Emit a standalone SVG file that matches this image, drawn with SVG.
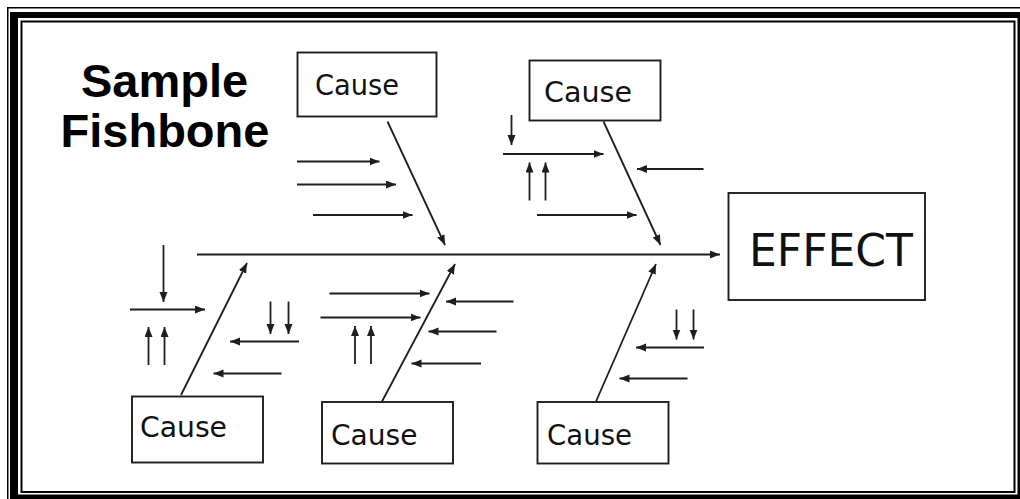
<svg xmlns="http://www.w3.org/2000/svg" width="1020" height="499" viewBox="0 0 1020 499">
  <style>
    .ln { stroke: #1e1e1e; stroke-width: 1.8; fill: none; }
    .spine { stroke: #1e1e1e; stroke-width: 2.2; fill: none; }
    .box { stroke: #1e1e1e; stroke-width: 1.9; fill: #ffffff; }
    .lbl { font-family: "DejaVu Sans", Verdana, sans-serif; font-size: 29px; fill: #111111; }
    .effect { font-family: "DejaVu Sans", Verdana, sans-serif; font-size: 45px; fill: #111111; }
    .title { font-family: "Liberation Sans", Arial, sans-serif; font-size: 47px; font-weight: bold; fill: #000000; text-anchor: middle; }
  </style>
  <defs>
    <marker id="ah" markerUnits="userSpaceOnUse" markerWidth="11" markerHeight="9" refX="10" refY="4" orient="auto">
      <path d="M0,0 L10,4 L0,8 z" fill="#1e1e1e"/>
    </marker>
  </defs>

  <!-- page background and triple border -->
  <rect x="0" y="0" width="1020" height="499" fill="#ffffff"/>
  <rect x="7.75" y="7.75" width="1030" height="520" fill="none" stroke="#000" stroke-width="1.5"/>
  <rect x="10" y="12" width="1030" height="520" fill="#000"/>
  <rect x="18" y="18" width="999.5" height="476.5" fill="#ffffff"/>
  <rect x="21.5" y="21.5" width="993" height="470.5" fill="none" stroke="#000" stroke-width="2"/>

  <!-- title -->
  <g id="title">
    <text class="title" x="164.5" y="97">Sample</text>
    <text class="title" x="165" y="147">Fishbone</text>
  </g>

  <!-- connectors: spine, bones and minor arrows -->
  <g id="connectors">
    <line class="spine" x1="197" y1="254.5" x2="720" y2="254.5" marker-end="url(#ah)"/>

    <!-- bones -->
    <line class="ln" x1="387.5" y1="121.5" x2="445" y2="245" marker-end="url(#ah)"/>
    <line class="ln" x1="603.5" y1="121.5" x2="660.5" y2="245" marker-end="url(#ah)"/>
    <line class="ln" x1="181" y1="395" x2="247" y2="263" marker-end="url(#ah)"/>
    <line class="ln" x1="382" y1="401.5" x2="455" y2="264" marker-end="url(#ah)"/>
    <line class="ln" x1="596" y1="401.5" x2="656" y2="264" marker-end="url(#ah)"/>

    <!-- upper-left bone -->
    <line class="ln" x1="297" y1="161.5" x2="379.5" y2="161.5" marker-end="url(#ah)"/>
    <line class="ln" x1="297" y1="184.5" x2="396" y2="184.5" marker-end="url(#ah)"/>
    <line class="ln" x1="313" y1="215" x2="412.5" y2="215" marker-end="url(#ah)"/>

    <!-- upper-right bone -->
    <line class="ln" x1="511.5" y1="115" x2="511.5" y2="145" marker-end="url(#ah)"/>
    <line class="ln" x1="503" y1="154" x2="603.5" y2="154" marker-end="url(#ah)"/>
    <line class="ln" x1="529.5" y1="200.5" x2="529.5" y2="162.5" marker-end="url(#ah)"/>
    <line class="ln" x1="545.5" y1="200.5" x2="545.5" y2="162.5" marker-end="url(#ah)"/>
    <line class="ln" x1="703.5" y1="169" x2="637" y2="169" marker-end="url(#ah)"/>
    <line class="ln" x1="537" y1="215" x2="636.5" y2="215" marker-end="url(#ah)"/>

    <!-- lower-left bone -->
    <line class="ln" x1="163.5" y1="245" x2="163.5" y2="302" marker-end="url(#ah)"/>
    <line class="ln" x1="130" y1="309.5" x2="205" y2="309.5" marker-end="url(#ah)"/>
    <line class="ln" x1="148.5" y1="365" x2="148.5" y2="327" marker-end="url(#ah)"/>
    <line class="ln" x1="164.5" y1="365" x2="164.5" y2="327" marker-end="url(#ah)"/>
    <line class="ln" x1="270.5" y1="301.5" x2="270.5" y2="334" marker-end="url(#ah)"/>
    <line class="ln" x1="288.5" y1="301.5" x2="288.5" y2="334" marker-end="url(#ah)"/>
    <line class="ln" x1="299" y1="341.5" x2="230" y2="341.5" marker-end="url(#ah)"/>
    <line class="ln" x1="281.5" y1="373.5" x2="213.5" y2="373.5" marker-end="url(#ah)"/>

    <!-- lower-middle bone -->
    <line class="ln" x1="329.5" y1="293.5" x2="429.5" y2="293.5" marker-end="url(#ah)"/>
    <line class="ln" x1="320.5" y1="317.5" x2="420.5" y2="317.5" marker-end="url(#ah)"/>
    <line class="ln" x1="355" y1="364" x2="355" y2="326" marker-end="url(#ah)"/>
    <line class="ln" x1="371" y1="364" x2="371" y2="326" marker-end="url(#ah)"/>
    <line class="ln" x1="513.5" y1="301.5" x2="446" y2="301.5" marker-end="url(#ah)"/>
    <line class="ln" x1="496.5" y1="331.5" x2="428.5" y2="331.5" marker-end="url(#ah)"/>
    <line class="ln" x1="481" y1="363.5" x2="411.5" y2="363.5" marker-end="url(#ah)"/>

    <!-- lower-right bone -->
    <line class="ln" x1="676.5" y1="309.5" x2="676.5" y2="339.5" marker-end="url(#ah)"/>
    <line class="ln" x1="693.5" y1="309.5" x2="693.5" y2="339.5" marker-end="url(#ah)"/>
    <line class="ln" x1="704" y1="347.5" x2="636" y2="347.5" marker-end="url(#ah)"/>
    <line class="ln" x1="687.5" y1="378.5" x2="619.5" y2="378.5" marker-end="url(#ah)"/>
  </g>

  <!-- nodes -->
  <g id="effect">
    <rect class="box" x="728.5" y="193" width="196.5" height="107"/>
    <text class="effect" x="749" y="266" textLength="164" lengthAdjust="spacingAndGlyphs">EFFECT</text>
  </g>
  <g id="cause-top-left">
    <rect class="box" x="297.5" y="52.5" width="139" height="64"/>
    <text class="lbl" x="315" y="94.5" textLength="84" lengthAdjust="spacingAndGlyphs">Cause</text>
  </g>
  <g id="cause-top-right">
    <rect class="box" x="529.5" y="60.5" width="131" height="60"/>
    <text class="lbl" x="544" y="102" textLength="88" lengthAdjust="spacingAndGlyphs">Cause</text>
  </g>
  <g id="cause-bottom-left">
    <rect class="box" x="132" y="396.5" width="131" height="66"/>
    <text class="lbl" x="140" y="437" textLength="87" lengthAdjust="spacingAndGlyphs">Cause</text>
  </g>
  <g id="cause-bottom-middle">
    <rect class="box" x="322" y="402" width="131" height="61.5"/>
    <text class="lbl" x="331" y="444.5" textLength="86.5" lengthAdjust="spacingAndGlyphs">Cause</text>
  </g>
  <g id="cause-bottom-right">
    <rect class="box" x="537.5" y="402" width="131" height="61.5"/>
    <text class="lbl" x="547" y="444.5" textLength="85" lengthAdjust="spacingAndGlyphs">Cause</text>
  </g>
</svg>
